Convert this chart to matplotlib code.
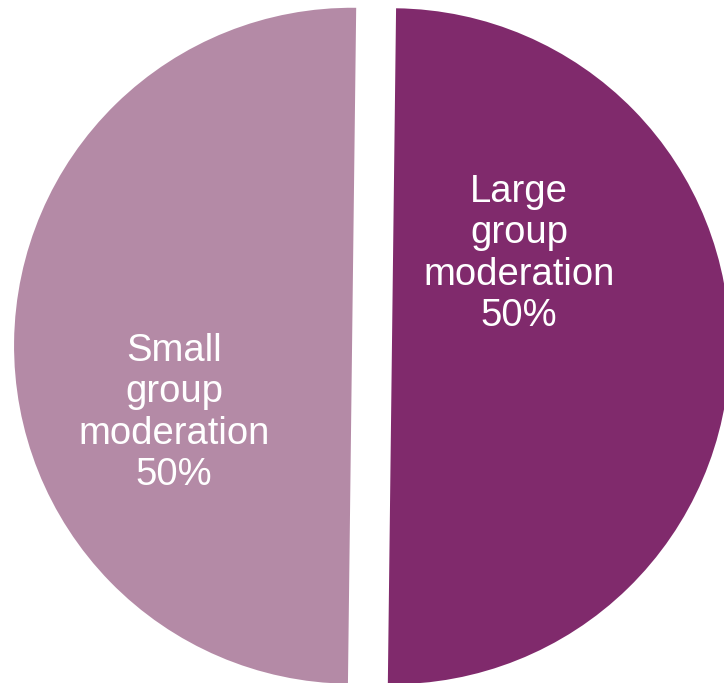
import matplotlib
matplotlib.use("Agg")
import matplotlib.pyplot as plt

# data
categories = ["Large group moderation", "Small group moderation"]
values = [50, 50]
colors = ["#802A6C", "#B48AA6"]

plt.rcParams['font.family'] = ['Liberation Sans', 'DejaVu Sans']

fig = plt.figure(figsize=(7.24, 6.83), dpi=100)
ax = fig.add_axes([0, 0, 1, 1])

wedges, _ = ax.pie(values, colors=colors, startangle=89.3, counterclock=False,
                   explode=[0.059, 0.059], radius=1.0,
                   wedgeprops=dict(linewidth=0))

# label positions (data coords)
label_pos = [(0.435, 0.272), (-0.586, -0.198)]
for cat, val, (x, y) in zip(categories, values, label_pos):
    words = cat.split(" ")
    txt = "\n".join(words) + "\n%d%%" % val
    ax.text(x, y, txt, ha="center", va="center", color="white",
            fontsize=27.5, linespacing=1.2)

ax.set_xlim(-1.1006, 1.0414)
ax.set_ylim(-0.997, 1.0237)
ax.set_aspect("auto")
ax.axis("off")

fig.savefig("out.png", dpi=100)
